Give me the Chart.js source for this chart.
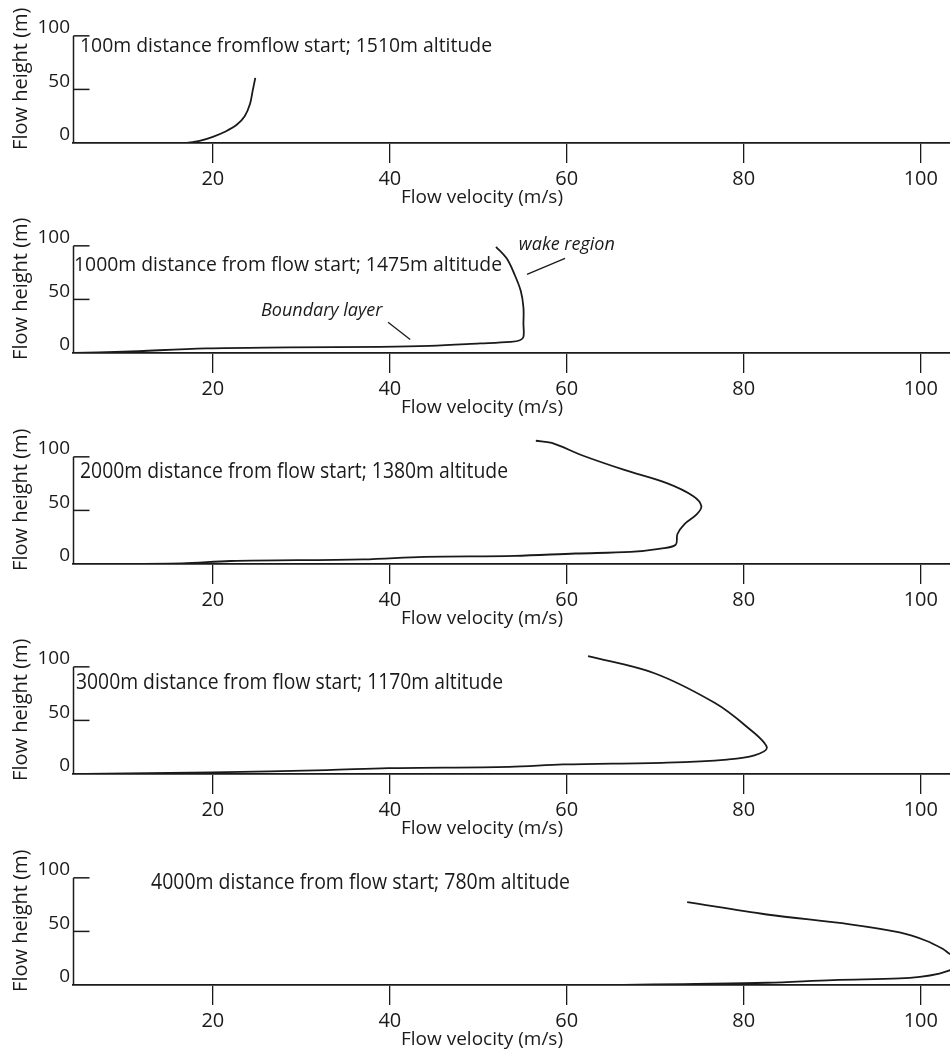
<!DOCTYPE html>
<html>
<head>
<meta charset="utf-8">
<script src="https://cdn.jsdelivr.net/npm/chart.js@4.4.1/dist/chart.umd.min.js"></script>
<style>
  html, body { margin: 0; padding: 0; background: #fff; }
  #wrap { position: relative; width: 950px; height: 1057px; overflow: hidden; }
  #wrap canvas { position: absolute; left: 0; }
</style>
</head>
<body>
<div id="wrap"></div>
<script>
// ── Data (velocity in m/s, height in m) ───────────────────

const xTicks = [20, 40, 60, 80, 100];
const yTicks = [0, 50, 100];

const notes = [
    '100m distance fromflow start; 1510m altitude',
    '1000m distance from flow start; 1475m altitude',
    '2000m distance from flow start; 1380m altitude',
    '3000m distance from flow start; 1170m altitude',
    '4000m distance from flow start; 780m altitude'
];

const vel100 = [13.4, 17.0, 18.5, 20.0, 21.5, 22.7, 23.6, 24.2, 24.5, 24.8];
const hgt100 = [0, 0.2, 2, 5.8, 11, 17, 25, 36.4, 48.6, 60.8];

const vel1000 = [4.3, 9.9, 19.3, 28.6, 38.9, 44.5, 50.2, 53.6, 54.7, 55.1, 55.1, 55.1, 54.8, 54.1, 53.2, 52.0];
const hgt1000 = [0, 1.2, 4.3, 5.2, 5.8, 6.7, 8.9, 10.4, 11.9, 15, 27.2, 42.5, 57.8, 73.1, 88.3, 99.1];

const vel2000 = [4.8, 16.5, 22.0, 37.0, 43.9, 54.1, 61.0, 67.2, 70.6, 72.3, 72.5, 73.3, 74.7, 75.2, 74.3, 71.3, 66.5, 61.7, 58.3, 56.5];
const hgt2000 = [0, 0.6, 2.8, 4.3, 6.7, 7.6, 9.8, 11.3, 14.4, 18, 28, 37.3, 46.5, 54.1, 63.3, 75.5, 87.8, 101.5, 113, 115];

const vel3000 = [5.5, 19.9, 32.9, 39.8, 53.5, 59.6, 71.3, 78.1, 81.2, 82.6, 80.2, 76.7, 69.9, 62.4];
const hgt3000 = [0, 1.5, 3.7, 5.5, 6.7, 8.9, 10.7, 13.5, 17.4, 25, 45, 66.4, 94, 110];

const vel4000 = [66.4, 73.2, 82.6, 90.1, 97.6, 99.9, 102.1, 103.3, 104.6, 105.0, 104.5, 103.3, 102.5, 100.6, 97.6, 92.0, 82.6, 73.6];
const hgt4000 = [0, 0.9, 2.1, 4.6, 6.1, 7.6, 10.7, 13.8, 18, 22, 26, 29, 33.6, 41.3, 49, 56.6, 65.8, 77.4];

// ── Layout ────────────────────────────────────────────────

const INK = '#1a1a1a';
const FONT = "'Open Sans', 'DejaVu Sans', sans-serif";
const X_MIN = 4.2, X_MAX = 103.3;
const Y_MIN = 0, Y_MAX = 120;

const panels = [
    { top: 0,   vel: vel100,  hgt: hgt100,  note: { x: 80,  y: 46, size: 20, w: 412 } },
    { top: 210, vel: vel1000, hgt: hgt1000, note: { x: 74,  y: 55, size: 20, w: 428 },
      callouts: [
          { text: 'wake region', at: [60.0, 100.9], line: [[55.5, 73.4], [59.8, 88.3]] },
          { text: 'Boundary layer', at: [32.3, 39.4], line: [[39.8, 28.7], [42.3, 12.6]] }
      ] },
    { top: 421, vel: vel2000, hgt: hgt2000, note: { x: 80,  y: 51, size: 21, w: 428 } },
    { top: 631, vel: vel3000, hgt: hgt3000, note: { x: 76,  y: 52, size: 21, w: 427 } },
    { top: 842, vel: vel4000, hgt: hgt4000, note: { x: 151, y: 41, size: 21, w: 419 } }
];

// Axis frame, inward y ticks, panel caption, x title and callouts
const panelDecor = {
    id: 'panelDecor',
    afterDraw(chart, args, opts) {
        const { ctx, chartArea, scales: { x, y } } = chart;
        ctx.save();
        ctx.strokeStyle = INK;
        ctx.fillStyle = INK;

        // y axis: line from 0 to 100 with ticks pointing into the plot
        const left = chartArea.left + 0.5;
        ctx.lineWidth = 1.5;
        ctx.beginPath();
        ctx.moveTo(left, y.getPixelForValue(0));
        ctx.lineTo(left, y.getPixelForValue(100));
        ctx.stroke();
        yTicks.filter(v => v > 0).forEach(v => {
            const py = y.getPixelForValue(v);
            ctx.beginPath();
            ctx.moveTo(left, py);
            ctx.lineTo(left + 16, py);
            ctx.stroke();
        });

        // caption
        const n = opts.note;
        ctx.font = `${n.size}px ${FONT}`;
        ctx.textAlign = 'left';
        ctx.textBaseline = 'middle';
        ctx.fillText(opts.text, n.x, n.y, n.w);

        // x axis title
        ctx.font = `19px ${FONT}`;
        ctx.textAlign = 'center';
        ctx.fillText('Flow velocity (m/s)', chartArea.left + 409, chartArea.bottom + 55, 167);

        // callouts
        (opts.callouts || []).forEach(c => {
            ctx.font = `italic 18px ${FONT}`;
            ctx.fillText(c.text, x.getPixelForValue(c.at[0]), y.getPixelForValue(c.at[1]));
            ctx.lineWidth = 1.3;
            ctx.beginPath();
            ctx.moveTo(x.getPixelForValue(c.line[0][0]), y.getPixelForValue(c.line[0][1]));
            ctx.lineTo(x.getPixelForValue(c.line[1][0]), y.getPixelForValue(c.line[1][1]));
            ctx.stroke();
        });
        ctx.restore();
    }
};

const wrap = document.getElementById('wrap');

panels.forEach((p, i) => {
    const canvas = document.createElement('canvas');
    canvas.width = 950;
    canvas.height = 211;
    canvas.style.top = p.top + 'px';
    wrap.appendChild(canvas);

    new Chart(canvas, {
        type: 'scatter',
        data: {
            datasets: [{
                data: p.vel.map((v, k) => ({ x: v, y: p.hgt[k] })),
                showLine: true,
                borderColor: INK,
                borderWidth: 1.8,
                tension: 0.35,
                pointRadius: 0,
                fill: false
            }]
        },
        plugins: [panelDecor],
        options: {
            responsive: false,
            animation: false,
            devicePixelRatio: 1,
            events: [],
            layout: { padding: { top: 12, left: 0, right: 0, bottom: 0 } },
            plugins: {
                legend: { display: false },
                tooltip: { enabled: false },
                panelDecor: { text: notes[i], note: p.note, callouts: p.callouts }
            },
            scales: {
                x: {
                    type: 'linear',
                    min: X_MIN,
                    max: X_MAX,
                    afterBuildTicks: s => { s.ticks = xTicks.map(v => ({ value: v })); },
                    afterFit: s => { s.height = 68; },
                    border: { display: true, color: INK, width: 1.7 },
                    grid: { display: true, drawOnChartArea: false, drawTicks: true, tickLength: 20, color: INK, lineWidth: 1.3 },
                    ticks: { font: { family: FONT, size: 20 }, color: INK, padding: 4, maxRotation: 0, autoSkip: false }
                },
                y: {
                    type: 'linear',
                    min: Y_MIN,
                    max: Y_MAX,
                    afterBuildTicks: s => { s.ticks = yTicks.map(v => ({ value: v })); },
                    afterFit: s => { s.width = 73; },
                    border: { display: false },
                    grid: { display: false, drawTicks: false },
                    ticks: { font: { family: FONT, size: 19 }, color: INK, padding: 3, labelOffset: -8 },
                    title: {
                        display: true,
                        text: 'Flow height (m)',
                        font: { family: FONT, size: 20 },
                        color: INK,
                        padding: { top: 9, bottom: 0 }
                    }
                }
            }
        }
    });
});
</script>
</body>
</html>
